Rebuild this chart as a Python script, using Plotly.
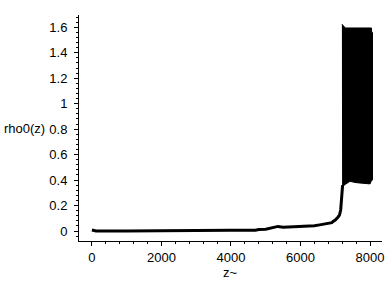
import plotly.graph_objects as go

# main curve z vs rho0(z)
z_line = [0, 60, 120, 1000, 2000, 2990, 3010, 4000, 4700, 4800, 5000, 5200, 5350, 5500,
          6000, 6400, 6550, 6700, 6900, 6935, 7000, 7080, 7120, 7155, 7175, 7195, 7210]
rho_line = [0.008, 0.004, 0.0, 0.0, 0.0, 0.0, 0.004, 0.005, 0.006, 0.012, 0.014, 0.026, 0.036, 0.030,
            0.033, 0.041, 0.048, 0.055, 0.065, 0.075, 0.086, 0.110, 0.125, 0.165, 0.24, 0.32, 0.36]

# envelope of the fast oscillation region
z_upper = [7190, 7290, 8040, 8045, 8070]
rho_upper = [1.625, 1.595, 1.595, 1.56, 1.56]
z_lower = [7195, 7250, 7420, 7600, 8000, 8045, 8070]
rho_lower = [0.33, 0.36, 0.39, 0.38, 0.37, 0.40, 0.40]

x_ticks = [0, 2000, 4000, 6000, 8000]
y_ticks = [0, 0.2, 0.4, 0.6, 0.8, 1, 1.2, 1.4, 1.6]
y_ticktext = ["0", "0.2", "0.4", "0.6", "0.8", "1", "1.2", "1.4", "1.6"]

FONT = "Liberation Sans Narrow, Liberation Sans, Arial, sans-serif"

fig = go.Figure()
fig.add_trace(go.Scatter(x=z_line, y=rho_line, mode="lines",
                         line=dict(color="black", width=3), showlegend=False))
poly_x = z_upper + z_lower[::-1]
poly_y = rho_upper + rho_lower[::-1]
fig.add_trace(go.Scatter(x=poly_x, y=poly_y, mode="lines", fill="toself",
                         fillcolor="black", line=dict(color="black", width=1),
                         showlegend=False))

fig.update_layout(
    width=388, height=288,
    margin=dict(l=79, r=4, t=15, b=47),
    paper_bgcolor="white", plot_bgcolor="white",
    font=dict(family=FONT, size=13, color="black"),
    xaxis=dict(range=[-371, 8343], tickvals=x_ticks, ticks="outside", ticklen=4,
               tickcolor="black", showline=True, linecolor="black", linewidth=1,
               showgrid=False, zeroline=False,
               minor=dict(dtick=400, tick0=0, ticks="outside", ticklen=2, tickcolor="black")),
    yaxis=dict(range=[-0.0786, 1.697], tickvals=y_ticks, ticktext=y_ticktext,
               ticks="outside", ticklen=4, tickcolor="black", showline=True,
               linecolor="black", linewidth=1, showgrid=False, zeroline=False,
               ticklabelstandoff=4,
               minor=dict(dtick=0.04, tick0=0, ticks="outside", ticklen=2, tickcolor="black")),
    annotations=[
        dict(text="rho0(z)", xref="paper", yref="paper", x=-0.0, y=0.5,
             xshift=-77, xanchor="left", yanchor="middle", showarrow=False,
             font=dict(family=FONT, size=13)),
        dict(text="z~", xref="paper", yref="paper", x=0.5, y=0, yshift=-31,
             xanchor="center", yanchor="middle", showarrow=False,
             font=dict(family=FONT, size=13)),
    ],
)

fig.write_html("out.html")
